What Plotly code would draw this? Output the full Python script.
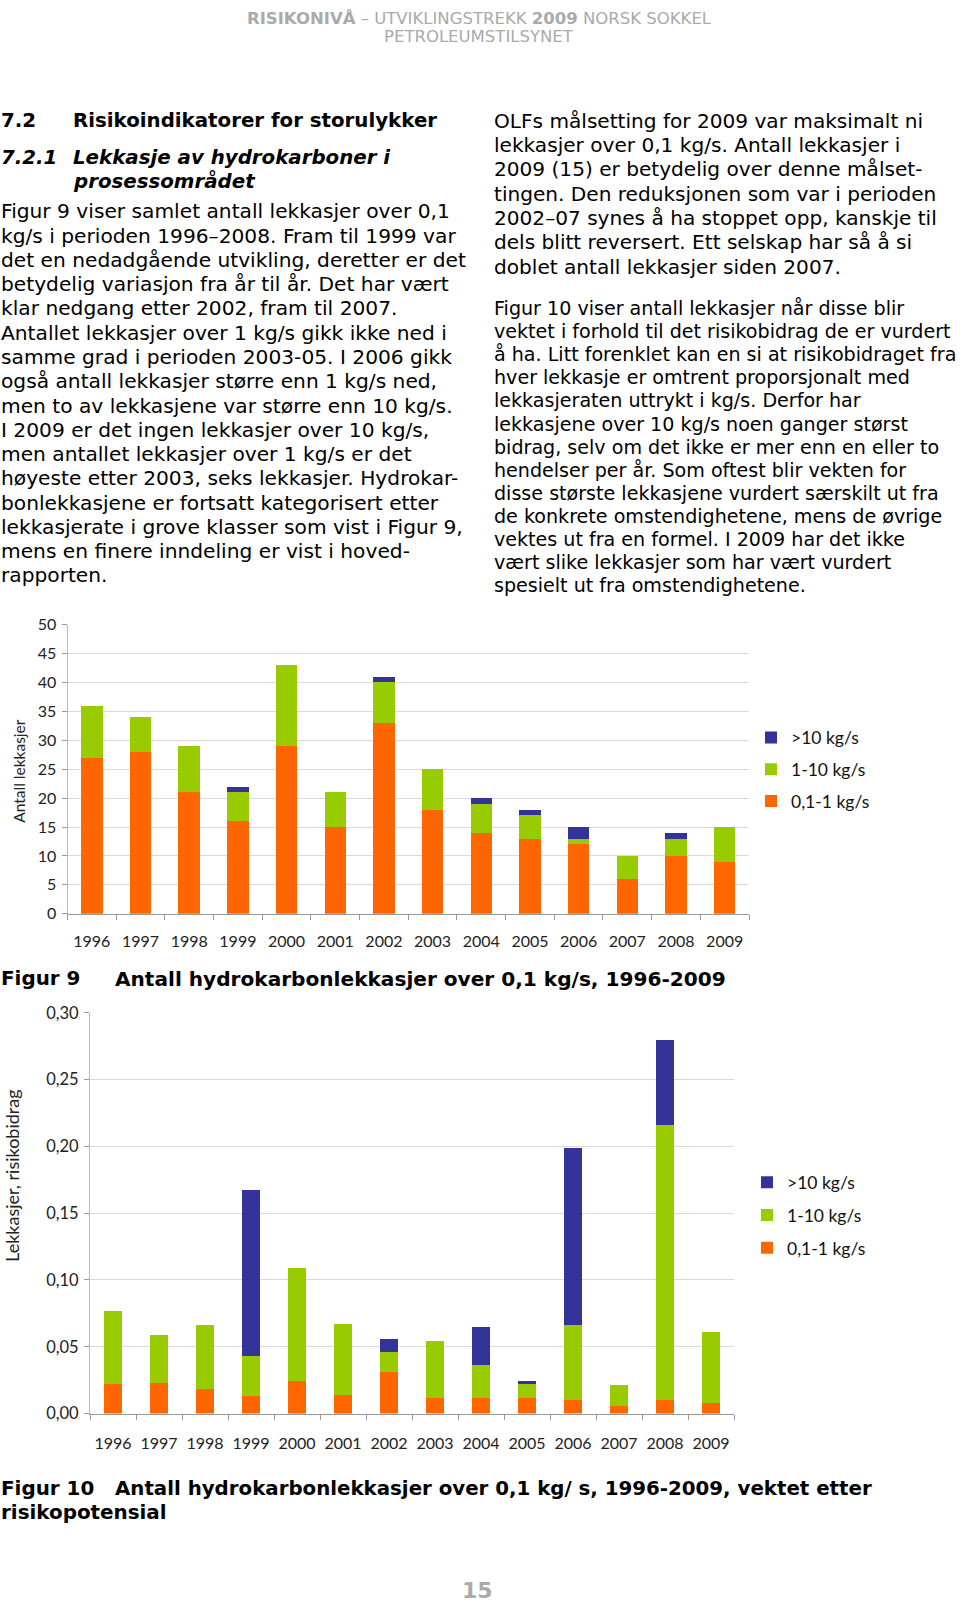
import plotly.graph_objects as go

W, H = 960, 1602

years = ["1996", "1997", "1998", "1999", "2000", "2001", "2002",
         "2003", "2004", "2005", "2006", "2007", "2008", "2009"]
colors = {">10 kg/s": "#333399", "1-10 kg/s": "#99CC00", "0,1-1 kg/s": "#FF6600"}
ranks = {">10 kg/s": 1, "1-10 kg/s": 2, "0,1-1 kg/s": 3}

# Figur 9: antall lekkasjer
count_small = [27, 28, 21, 16, 29, 15, 33, 18, 14, 13, 12, 6, 10, 9]
count_mid = [9, 6, 8, 5, 14, 6, 7, 7, 5, 4, 1, 4, 3, 6]
count_large = [0, 0, 0, 1, 0, 0, 1, 0, 1, 1, 2, 0, 1, 0]

# Figur 10: risikobidrag
risk_small = [0.022, 0.023, 0.018, 0.013, 0.024, 0.014, 0.031, 0.012, 0.012, 0.012, 0.010, 0.006, 0.010, 0.008]
risk_mid = [0.055, 0.036, 0.048, 0.030, 0.085, 0.053, 0.015, 0.042, 0.024, 0.010, 0.056, 0.015, 0.206, 0.053]
risk_large = [0.000, 0.000, 0.000, 0.124, 0.000, 0.000, 0.010, 0.000, 0.029, 0.002, 0.133, 0.000, 0.064, 0.000]

count_ticks = [0, 5, 10, 15, 20, 25, 30, 35, 40, 45, 50]
risk_ticks = [0.0, 0.05, 0.10, 0.15, 0.20, 0.25, 0.30]

# the photographed page comes out slightly shrunk vertically and shifted; compensate
SY, OX, OY = 0.987, 1.0, 9.7


def px(x):
    return (x - OX) / W


def py(y):
    return 1 - ((y - OY) / SY) / H


fig = go.Figure()

for name, vals in [("0,1-1 kg/s", count_small), ("1-10 kg/s", count_mid), (">10 kg/s", count_large)]:
    fig.add_trace(go.Bar(x=years, y=vals, name=name, marker_color=colors[name],
                         marker_line_width=0, width=0.44, xaxis="x", yaxis="y",
                         legend="legend", legendgroup="a" + name,
                         legendrank=ranks[name]))
for name, vals in [("0,1-1 kg/s", risk_small), ("1-10 kg/s", risk_mid), (">10 kg/s", risk_large)]:
    fig.add_trace(go.Bar(x=years, y=vals, name=name, marker_color=colors[name],
                         marker_line_width=0, width=0.40, xaxis="x2", yaxis="y2",
                         legend="legend2", legendgroup="b" + name,
                         legendrank=ranks[name]))

tickfont = dict(family="Lato", size=16, color="#222")

fig.update_layout(
    width=W, height=H, margin=dict(l=0, r=0, t=0, b=0),
    paper_bgcolor="white", plot_bgcolor="white",
    barmode="stack", separators=", ",
    showlegend=True,
    xaxis=dict(domain=[px(68.5), px(750)], anchor="y", type="category",
               tickson="boundaries", ticks="outside", ticklen=5, tickcolor="#999",
               showline=True, linecolor="#999", linewidth=1, showgrid=False,
               tickfont=tickfont, tickangle=0, ticklabelstandoff=13),
    yaxis=dict(domain=[py(913), py(624)], anchor="x", range=[0, 50],
               tickvals=count_ticks, ticks="outside", ticklen=5, tickcolor="#999",
               showline=True, linecolor="#bbb", gridcolor="#dadada", gridwidth=1,
               zeroline=False, tickfont=tickfont, ticklabelstandoff=2),
    xaxis2=dict(domain=[px(91), px(735)], anchor="y2", type="category",
                tickson="boundaries", ticks="outside", ticklen=5, tickcolor="#999",
                showline=True, linecolor="#999", linewidth=1, showgrid=False,
                tickfont=tickfont, tickangle=0, ticklabelstandoff=15),
    yaxis2=dict(domain=[py(1412.5), py(1012)], anchor="x2", range=[0, 0.30],
                tickvals=risk_ticks, tickformat=".2f", ticks="outside", ticklen=5,
                tickcolor="#999", showline=True, linecolor="#bbb",
                gridcolor="#dadada", gridwidth=1, zeroline=False,
                tickfont=dict(family="Lato", size=16.5, color="#222"),
                ticklabelstandoff=2),
    legend=dict(x=px(752), y=py(719), xanchor="left", yanchor="top",
                traceorder="grouped", tracegroupgap=6,
                font=dict(family="Lato", size=17.5, color="#111"),
                bgcolor="rgba(0,0,0,0)", itemclick=False),
    legend2=dict(x=px(748), y=py(1163.5), xanchor="left", yanchor="top",
                 traceorder="grouped", tracegroupgap=7,
                 font=dict(family="Lato", size=17.5, color="#111"),
                 bgcolor="rgba(0,0,0,0)", itemclick=False),
)

ann = []


def txt(x, y, s, size=19, family="DejaVu Sans", color="#000", anchor="left",
        angle=0, yanchor="middle"):
    ann.append(dict(x=px(x), y=py(y), xref="paper", yref="paper", text=s,
                    showarrow=False, xanchor=anchor, yanchor=yanchor,
                    textangle=angle,
                    font=dict(family=family, size=size, color=color)))


# header
txt(480, 6.7, "<b>RISIKONIVÅ</b> – UTVIKLINGSTREKK <b>2009</b> NORSK SOKKEL",
    size=16.5, color="#aaaaaa", anchor="center", yanchor="top")
txt(480, 36, "PETROLEUMSTILSYNET", size=16.5, color="#aaaaaa", anchor="center")

# headings
txt(0, 120.5, "<b>7.2</b>", size=19.8)
txt(71.5, 120.5, "<b>Risikoindikatorer for storulykker</b>", size=19.8)
txt(0, 157, "<b><i>7.2.1</i></b>", size=19.8)
txt(71.5, 157, "<b><i>Lekkasje av hydrokarboner i</i></b>", size=19.8)
txt(71.5, 181, "<b><i>prosessområdet</i></b>", size=19.8)

left_lines = [
    "Figur 9 viser samlet antall lekkasjer over 0,1",
    "kg/s i perioden 1996–2008. Fram til 1999 var",
    "det en nedadgående utvikling, deretter er det",
    "betydelig variasjon fra år til år. Det har vært",
    "klar nedgang etter 2002, fram til 2007.",
    "Antallet lekkasjer over 1 kg/s gikk ikke ned i",
    "samme grad i perioden 2003-05. I 2006 gikk",
    "også antall lekkasjer større enn 1 kg/s ned,",
    "men to av lekkasjene var større enn 10 kg/s.",
    "I 2009 er det ingen lekkasjer over 10 kg/s,",
    "men antallet lekkasjer over 1 kg/s er det",
    "høyeste etter 2003, seks lekkasjer. Hydrokar-",
    "bonlekkasjene er fortsatt kategorisert etter",
    "lekkasjerate i grove klasser som vist i Figur 9,",
    "mens en finere inndeling er vist i hoved-",
    "rapporten.",
]
for i, s in enumerate(left_lines):
    txt(0, 211 + i * 24.25, s, size=20.2)

right1 = [
    "OLFs målsetting for 2009 var maksimalt ni",
    "lekkasjer over 0,1 kg/s. Antall lekkasjer i",
    "2009 (15) er betydelig over denne målset-",
    "tingen. Den reduksjonen som var i perioden",
    "2002–07 synes å ha stoppet opp, kanskje til",
    "dels blitt reversert. Ett selskap har så å si",
    "doblet antall lekkasjer siden 2007.",
]
for i, s in enumerate(right1):
    txt(493, 120.5 + i * 24.3, s, size=20.1)

right2 = [
    "Figur 10 viser antall lekkasjer når disse blir",
    "vektet i forhold til det risikobidrag de er vurdert",
    "å ha. Litt forenklet kan en si at risikobidraget fra",
    "hver lekkasje er omtrent proporsjonalt med",
    "lekkasjeraten uttrykt i kg/s. Derfor har",
    "lekkasjene over 10 kg/s noen ganger størst",
    "bidrag, selv om det ikke er mer enn en eller to",
    "hendelser per år. Som oftest blir vekten for",
    "disse største lekkasjene vurdert særskilt ut fra",
    "de konkrete omstendighetene, mens de øvrige",
    "vektes ut fra en formel. I 2009 har det ikke",
    "vært slike lekkasjer som har vært vurdert",
    "spesielt ut fra omstendighetene.",
]
for i, s in enumerate(right2):
    txt(493, 308 + i * 23.1, s, size=19.1)

# axis titles
txt(20, 771, "Antall lekkasjer", size=15.5, family="Lato", color="#222", anchor="center", angle=-90)
txt(13, 1175, "Lekkasjer, risikobidrag", size=18, family="Lato", color="#222", anchor="center", angle=-90)

# captions
txt(0, 978, "<b>Figur 9</b>", size=19.9)
txt(114, 978, "<b>Antall hydrokarbonlekkasjer over 0,1 kg/s, 1996-2009</b>", size=20.1)
txt(0, 1487, "<b>Figur 10</b>", size=19.9)
txt(114, 1487, "<b>Antall hydrokarbonlekkasjer over 0,1 kg/ s, 1996-2009, vektet etter</b>", size=19.8)
txt(0, 1511, "<b>risikopotensial</b>", size=19.9)

# page number
txt(478, 1589, "<b>15</b>", size=22, color="#aaaaaa", anchor="center")

fig.update_layout(annotations=ann)

fig.write_html("out.html", config={"displayModeBar": False},
               post_script="document.body.style.margin='0';document.body.style.padding='0';"
                           "document.body.style.overflow='hidden';")
